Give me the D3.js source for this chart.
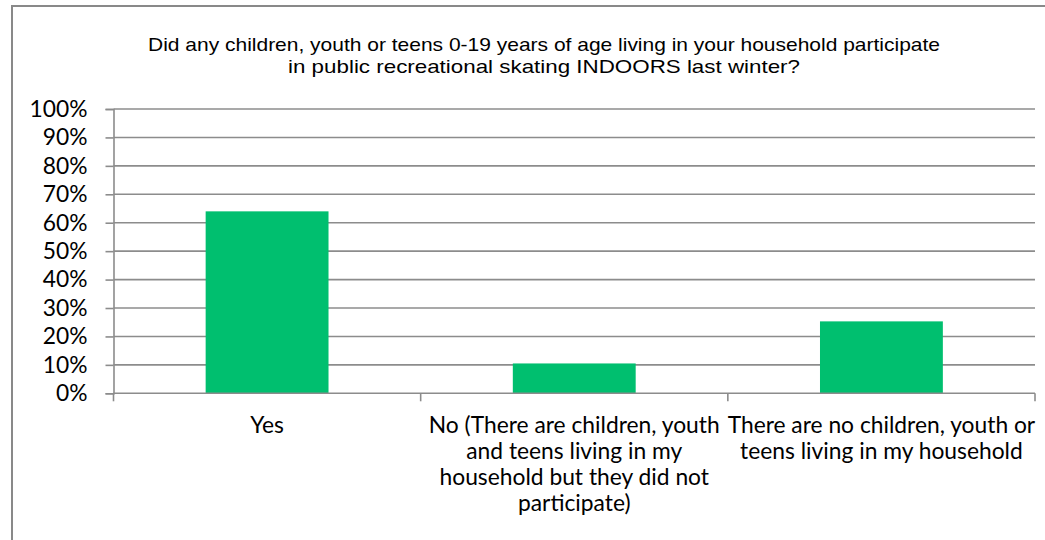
<!DOCTYPE html>
<html>
<head>
<meta charset="utf-8">
<script src="https://cdn.jsdelivr.net/npm/d3@7"></script>
<style>
  html, body { margin: 0; padding: 0; background: #fff; }
  svg { display: block; }
</style>
</head>
<body>
<svg id="chart" width="1045" height="540"></svg>
<script>
// Survey responses: share of households (%)
const categories = [
  "Yes",
  "No (There are children, youth\nand teens living in my\nhousehold but they did not\nparticipate)",
  "There are no children, youth or\nteens living in my household"
];
const values = [64.0, 10.5, 25.3];
const yTicks = [0, 10, 20, 30, 40, 50, 60, 70, 80, 90, 100];
const titleLines = [
  "Did any children, youth or teens 0-19 years of age living in your household participate",
  "in public recreational skating INDOORS last winter?"
];

const svg = d3.select("#chart");
const W = 1045, H = 540;
const gridColor = "#8c8c8c";
const barColor = "#00bf6f";
const labelFont = "Lato, 'Open Sans', sans-serif";
const labelSize = 22.8;

// Chart frame (extends past the right and bottom edges)
svg.append("rect")
  .attr("x", 12).attr("y", 6)
  .attr("width", W).attr("height", H)
  .attr("fill", "#fff")
  .attr("stroke", "#898989").attr("stroke-width", 2);

const plot = { left: 113.5, right: 1035, top: 109, bottom: 393.3 };

const x = d3.scaleBand()
  .domain(categories)
  .range([plot.left, plot.right])
  .paddingInner(0.6)
  .paddingOuter(0.3);

const xOuter = d3.scaleBand()
  .domain(categories)
  .range([plot.left, plot.right]);

const y = d3.scaleLinear().domain([0, 100]).range([plot.bottom, plot.top]);

// Title, two centred lines
const titleWidths = [792, 512];
svg.append("g")
  .selectAll("text")
  .data(titleLines)
  .join("text")
  .attr("x", 544)
  .attr("y", (d, i) => 51 + i * 22)
  .attr("text-anchor", "middle")
  .attr("font-family", "'Liberation Sans', Arial, sans-serif")
  .attr("font-size", 19)
  .attr("textLength", (d, i) => titleWidths[i])
  .attr("lengthAdjust", "spacingAndGlyphs")
  .attr("fill", "#000")
  .text(d => d);

// Gridlines
svg.append("g")
  .selectAll("line")
  .data(yTicks.filter(t => t > 0))
  .join("line")
  .attr("x1", plot.left).attr("x2", plot.right)
  .attr("y1", d => y(d)).attr("y2", d => y(d))
  .attr("stroke", gridColor).attr("stroke-width", 1.6);

// Y axis
const yAxis = svg.append("g")
  .attr("transform", `translate(${plot.left},0)`)
  .call(d3.axisLeft(y).tickValues(yTicks).tickSize(8).tickPadding(18)
    .tickFormat(d => d + "%"));
yAxis.select(".domain").attr("stroke", gridColor).attr("stroke-width", 1.6);
yAxis.selectAll(".tick line").attr("stroke", gridColor).attr("stroke-width", 1.6);
yAxis.selectAll(".tick text")
  .attr("font-family", labelFont)
  .attr("font-size", labelSize)
  .attr("fill", "#000");

// Bars
svg.append("g")
  .selectAll("rect")
  .data(values)
  .join("rect")
  .attr("x", (d, i) => x(categories[i]))
  .attr("y", d => y(d))
  .attr("width", x.bandwidth())
  .attr("height", d => y(0) - y(d))
  .attr("fill", barColor);

// X axis line and category boundary ticks
svg.append("line")
  .attr("x1", plot.left).attr("x2", plot.right)
  .attr("y1", plot.bottom).attr("y2", plot.bottom)
  .attr("stroke", gridColor).attr("stroke-width", 1.6);

const boundaries = categories.map(c => xOuter(c)).concat([plot.right]);
svg.append("g")
  .selectAll("line")
  .data(boundaries)
  .join("line")
  .attr("x1", d => d).attr("x2", d => d)
  .attr("y1", plot.bottom).attr("y2", plot.bottom + 8)
  .attr("stroke", gridColor).attr("stroke-width", 1.6);

// Category labels, wrapped onto fixed lines
const catG = svg.append("g");
categories.forEach((c, i) => {
  const cx = xOuter(c) + xOuter.bandwidth() / 2;
  const t = catG.append("text")
    .attr("x", cx)
    .attr("y", 433)
    .attr("text-anchor", "middle")
    .attr("font-family", labelFont)
    .attr("font-size", labelSize)
    .attr("fill", "#000");
  c.split("\n").forEach((line, j) => {
    t.append("tspan")
      .attr("x", cx)
      .attr("dy", j === 0 ? 0 : 26)
      .text(line);
  });
});
</script>
</body>
</html>
